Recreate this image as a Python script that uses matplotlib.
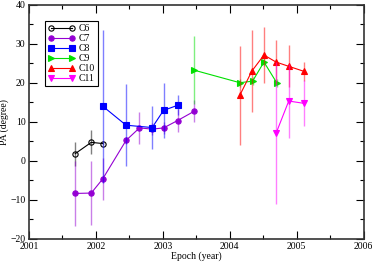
import matplotlib
matplotlib.use("Agg")
import matplotlib.pyplot as plt
from matplotlib.ticker import MultipleLocator

plt.rcParams['font.family'] = ['Liberation Serif', 'DejaVu Serif']

# epoch, PA and PA error for each component
c6_t = [2001.69, 2001.93, 2002.10]
c6_pa = [1.8, 4.7, 4.4]
c6_err = [3.1, 3.1, 0.5]

c7_t = [2001.69, 2001.93, 2002.10, 2002.45, 2002.65, 2002.84, 2003.01, 2003.22, 2003.47]
c7_pa = [-8.4, -8.3, -4.7, 5.2, 8.4, 8.1, 8.4, 10.3, 12.7]
c7_err = [8.3, 8.2, 5.4, 1.0, 4.2, 1.5, 1.5, 2.9, 2.8]

c8_t = [2002.10, 2002.45, 2002.84, 2003.01, 2003.22]
c8_pa = [14.0, 9.1, 8.5, 12.9, 14.2]
c8_err = [19.6, 10.5, 5.6, 7.1, 2.6]

c9_t = [2003.47, 2004.15, 2004.34, 2004.51, 2004.70]
c9_pa = [23.2, 20.0, 20.4, 25.3, 20.0]
c9_err = [8.7, 1.0, 1.0, 1.0, 1.0]

c10_t = [2004.15, 2004.33, 2004.51, 2004.69, 2004.88, 2005.11]
c10_pa = [16.8, 23.0, 27.1, 25.3, 24.2, 22.9]
c10_err = [12.7, 10.5, 7.2, 5.6, 5.4, 2.5]

c11_t = [2004.69, 2004.88, 2005.11]
c11_pa = [7.0, 15.3, 14.7]
c11_err = [18.2, 9.4, 5.9]

series = [
    ("C6", c6_t, c6_pa, c6_err, "black", "o", "none"),
    ("C7", c7_t, c7_pa, c7_err, "#9400d3", "o", "#9400d3"),
    ("C8", c8_t, c8_pa, c8_err, "blue", "s", "blue"),
    ("C9", c9_t, c9_pa, c9_err, "#00e000", ">", "#00e000"),
    ("C10", c10_t, c10_pa, c10_err, "red", "^", "red"),
    ("C11", c11_t, c11_pa, c11_err, "magenta", "v", "magenta"),
]

fig = plt.figure(figsize=(3.74, 2.62), dpi=100)
ax = fig.add_axes([0.0775, 0.089, 0.895, 0.893])

for name, t, pa, err, col, mk, fc in series:
    ax.errorbar(t, pa, yerr=err, fmt='none', ecolor=col, alpha=0.5,
                elinewidth=1.0, capsize=0)
    ax.plot(t, pa, '-', color=col, lw=0.8, marker=mk, ms=3.8,
            markerfacecolor=fc, markeredgecolor=col, markeredgewidth=0.8,
            label=name)

ax.set_xlim(2001, 2006)
ax.set_ylim(-20, 40)
ax.xaxis.set_major_locator(MultipleLocator(1))
ax.xaxis.set_minor_locator(MultipleLocator(0.5))
ax.yaxis.set_major_locator(MultipleLocator(10))
ax.yaxis.set_minor_locator(MultipleLocator(5))
ax.tick_params(which='both', direction='in', top=True, right=True,
               labelsize=7, pad=2.5)
ax.tick_params(axis='x', pad=2.5)
ax.tick_params(which='major', length=6, width=0.8)
ax.tick_params(which='minor', length=3, width=0.8)
for s in ax.spines.values():
    s.set_linewidth(1.2)
    s.set_color('#333333')

ax.set_xlabel("Epoch (year)", fontsize=7, labelpad=0.5)
ax.set_ylabel("PA (degree)", fontsize=7, labelpad=1)

leg = ax.legend(loc='upper left', bbox_to_anchor=(0.033, 0.95), fontsize=7,
                numpoints=2, handlelength=2.8, handletextpad=0.4,
                labelspacing=0.1, borderpad=0.3, fancybox=False,
                framealpha=1, edgecolor='black')
leg.get_frame().set_linewidth(0.8)

fig.savefig("out.png", dpi=100)
